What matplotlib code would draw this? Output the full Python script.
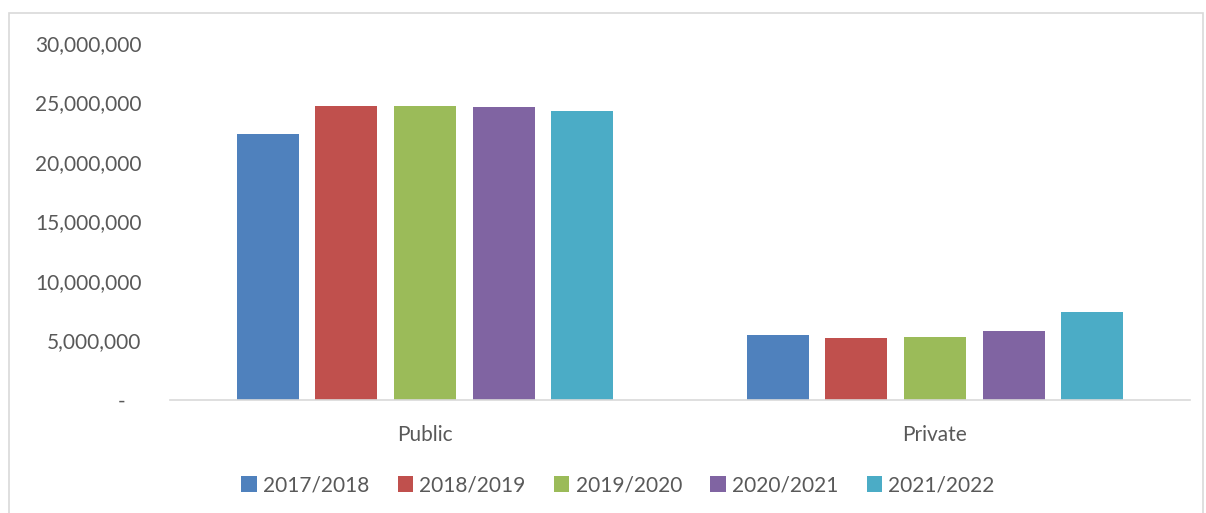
import numpy as np
import matplotlib
matplotlib.use("Agg")
import matplotlib.pyplot as plt
from matplotlib.patches import Rectangle

plt.rcParams['font.family'] = ['Lato', 'DejaVu Sans']

categories = ["Public", "Private"]
years = ["2017/2018", "2018/2019", "2019/2020", "2020/2021", "2021/2022"]
values = {
    "2017/2018": [22350000, 5430000],
    "2018/2019": [24730000, 5180000],
    "2019/2020": [24700000, 5290000],
    "2020/2021": [24620000, 5770000],
    "2021/2022": [24260000, 7390000],
}
colors = ["#4f81bd", "#c0504d", "#9bbb59", "#8064a2", "#4bacc6"]
yticks = [0, 5000000, 10000000, 15000000, 20000000, 25000000, 30000000]

text_col = "#595959"
fs = 15

fig = plt.figure(figsize=(12.06, 5.13), dpi=100)
ax = fig.add_axes([170 / 1206, 1 - 400 / 513, 1020 / 1206, 357 / 513])

x = np.arange(len(categories))
slot = 0.154
width = 0.1216
for i, yr in enumerate(years):
    ax.bar(x + (i - 2) * slot, values[yr], width=width, color=colors[i], label=yr, zorder=2)

ax.set_xlim(-0.5, 1.5)
ax.set_ylim(0, 30000000)
ax.set_yticks(yticks)
ax.set_yticklabels(["-   "] + ["{:,}".format(v) for v in yticks[1:]])
ax.set_xticks(x)
ax.set_xticklabels(categories)

for s in ["top", "right", "left"]:
    ax.spines[s].set_visible(False)
ax.spines["bottom"].set_color("#d9d9d9")
ax.spines["bottom"].set_linewidth(1.2)
ax.tick_params(axis="both", length=0, labelsize=fs, colors=text_col)
ax.tick_params(axis="y", pad=20.5)
ax.tick_params(axis="x", pad=18)

leg = fig.legend(loc="center", bbox_to_anchor=(618 / 1206, 1 - 485 / 513), ncol=5, frameon=False,
                 fontsize=fs, handlelength=0.75, handleheight=0.8, handletextpad=0.3,
                 columnspacing=1.35)
for t in leg.get_texts():
    t.set_color(text_col)

# light border around chart area
fig.patches.append(Rectangle((9 / 1206, -0.01), 1194 / 1206, 1 - 13 / 513 + 0.01,
                             transform=fig.transFigure, fill=False,
                             edgecolor="#d9d9d9", linewidth=1.2))

fig.savefig("out.png", dpi=100)
